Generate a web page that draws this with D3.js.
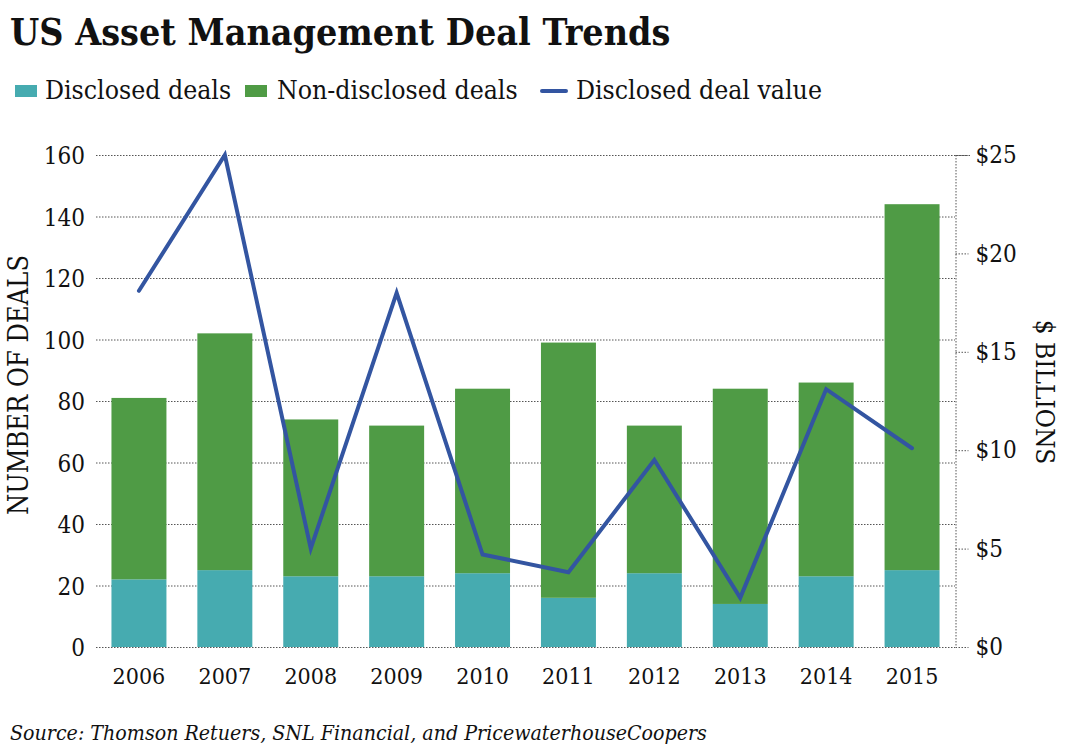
<!DOCTYPE html>
<html><head><meta charset="utf-8">
<script src="https://cdn.jsdelivr.net/npm/d3@7"></script>
<style>
body{margin:0;background:#fff;}
svg text{font-family:"DejaVu Serif Condensed","DejaVu Serif",serif;font-stretch:condensed;fill:#111;}
</style></head>
<body><svg id="c" width="1071" height="750"></svg>
<script>
const years = ["2006","2007","2008","2009","2010","2011","2012","2013","2014","2015"];
const disclosed = [22, 25, 23, 23, 24, 16, 24, 14, 23, 25];
const totalDeals = [81, 102, 74, 72, 84, 99, 72, 84, 86, 144];
const nonDisclosed = totalDeals.map((t,i)=>t-disclosed[i]);
const dealValue = [18.1, 25.0, 5.0, 18.0, 4.7, 3.8, 9.5, 2.5, 13.1, 10.1];
const leftTicks = [0,20,40,60,80,100,120,140,160];
const rightTicks = [0,5,10,15,20,25];

const colTeal="#46abb0", colGreen="#4f9b45", colLine="#3355a1";
const svg=d3.select("#c");
const L=96,R=955,T=155,B=647;
const x=d3.scaleBand().domain(years).range([L,R]).paddingInner(0.36).paddingOuter(0.18);
const y=d3.scaleLinear().domain([0,160]).range([B,T]);
const y2=d3.scaleLinear().domain([0,25]).range([B,T]);

// title
svg.append("text").attr("x",10).attr("y",45).attr("font-size",37.3).attr("font-weight","bold").text("US Asset Management Deal Trends");

// gridlines
svg.append("g").selectAll("line").data(leftTicks).join("line")
 .attr("x1",L).attr("x2",d=>d===160?970:R).attr("y1",d=>y(d)+0.5).attr("y2",d=>y(d)+0.5)
 .attr("stroke","#555").attr("stroke-width",1).attr("stroke-dasharray","1.5,1.5");

// left axis labels
const ya=d3.axisLeft(y).tickValues(leftTicks).tickSize(0).tickPadding(0);
const gl=svg.append("g").attr("transform",`translate(${L-11},0)`).call(ya).attr("font-family",null).attr("font-size",null);
gl.select(".domain").remove();
gl.selectAll("text").attr("font-size",24).attr("fill","#111").attr("dy","0.36em");

// bars
const stack=years.map((yr,i)=>({yr,d:disclosed[i],n:nonDisclosed[i]}));
svg.append("g").selectAll("rect").data(stack).join("rect")
 .attr("x",d=>x(d.yr)).attr("width",x.bandwidth()).attr("y",d=>y(d.d)).attr("height",d=>y(0)-y(d.d)).attr("fill",colTeal);
svg.append("g").selectAll("rect").data(stack).join("rect")
 .attr("x",d=>x(d.yr)).attr("width",x.bandwidth()).attr("y",d=>y(d.d+d.n)).attr("height",d=>y(d.d)-y(d.d+d.n)).attr("fill",colGreen);

// right axis
const ra=d3.axisRight(y2).tickValues(rightTicks).tickSize(13).tickPadding(7).tickFormat(d=>"$"+d);
const gr=svg.append("g").attr("transform",`translate(${R+0.5},0)`).call(ra).attr("font-family",null).attr("font-size",null);
gr.select(".domain").attr("stroke","#555").attr("stroke-dasharray","1.5,1.5").attr("d",`M0.5,${T}V${B}`);
gr.selectAll(".tick line").attr("stroke","#555").attr("stroke-dasharray","1.5,1.5");
gr.selectAll("text").attr("font-size",24).attr("fill","#111");

// x labels
const xa=d3.axisBottom(x).tickSize(0).tickPadding(0);
const gx=svg.append("g").attr("transform",`translate(0,${B+37})`).call(xa).attr("font-family",null).attr("font-size",null);
gx.select(".domain").remove();
gx.selectAll("text").attr("font-size",23).attr("fill","#111").attr("dy",0);

// line
const line=d3.line().x((d,i)=>x(years[i])+x.bandwidth()/2).y(d=>y2(d));
svg.append("path").datum(dealValue).attr("d",line).attr("fill","none").attr("stroke",colLine).attr("stroke-width",4).attr("stroke-linecap","round").attr("stroke-linejoin","miter");

// axis titles
svg.append("text").attr("transform","translate(28,385) rotate(-90)").attr("text-anchor","middle").attr("font-size",27).text("NUMBER OF DEALS");
svg.append("text").attr("transform","translate(1036,392) rotate(90)").attr("text-anchor","middle").attr("font-size",26).text("$ BILLIONS");

// legend
const lg=svg.append("g");
lg.append("rect").attr("x",15).attr("y",85).attr("width",22).attr("height",12).attr("fill",colTeal);
lg.append("text").attr("x",45).attr("y",99).attr("font-size",26.4).text("Disclosed deals");
lg.append("rect").attr("x",245).attr("y",85).attr("width",22).attr("height",12).attr("fill",colGreen);
lg.append("text").attr("x",277).attr("y",99).attr("font-size",26.4).text("Non-disclosed deals");
lg.append("line").attr("x1",542).attr("x2",566).attr("y1",91).attr("y2",91).attr("stroke",colLine).attr("stroke-width",4).attr("stroke-linecap","round");
lg.append("text").attr("x",576).attr("y",99).attr("font-size",26.4).text("Disclosed deal value");

// source
svg.append("text").attr("x",10).attr("y",740).attr("font-size",21.2).attr("font-style","italic").text("Source: Thomson Retuers, SNL Financial, and PricewaterhouseCoopers");
</script></body></html>
